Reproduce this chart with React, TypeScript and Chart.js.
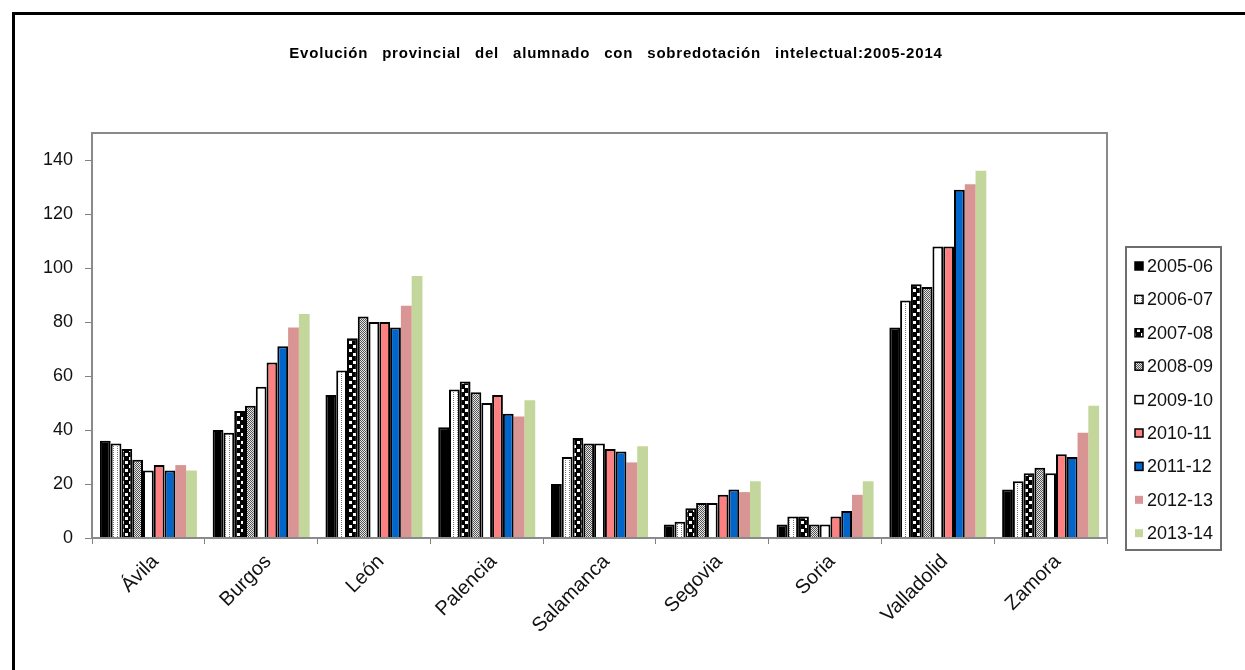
import React, { useEffect, useRef } from 'react';
import { Chart, registerables } from 'chart.js';

Chart.register(...registerables);

const TITLE = 'Evolución provincial del alumnado con sobredotación intelectual:2005-2014';
const provinces = ['Ávila', 'Burgos', 'León', 'Palencia', 'Salamanca', 'Segovia', 'Soria', 'Valladolid', 'Zamora'];
const seriesLabels = ['2005-06', '2006-07', '2007-08', '2008-09', '2009-10', '2010-11', '2011-12', '2012-13', '2013-14'];
const s200506 = [36, 40, 53, 41, 20, 5, 5, 78, 18];
const s200607 = [35, 39, 62, 55, 30, 6, 8, 88, 21];
const s200708 = [33, 47, 74, 58, 37, 11, 8, 94, 24];
const s200809 = [29, 49, 82, 54, 35, 13, 5, 93, 26];
const s200910 = [25, 56, 80, 50, 35, 13, 5, 108, 24];
const s201011 = [27, 65, 80, 53, 33, 16, 8, 108, 31];
const s201112 = [25, 71, 78, 46, 32, 18, 10, 129, 30];
const s201213 = [27, 78, 86, 45, 28, 17, 16, 131, 39];
const s201314 = [25, 83, 97, 51, 34, 21, 21, 136, 49];
const yTicks = [0, 20, 40, 60, 80, 100, 120, 140];

const FONT = '"Liberation Sans", Arial, sans-serif';

function makePattern(size: number, draw: (c: CanvasRenderingContext2D) => void): CanvasPattern | string {
  const cv = document.createElement('canvas');
  cv.width = size;
  cv.height = size;
  const c = cv.getContext('2d');
  if (!c) return '#888';
  draw(c);
  const p = c.createPattern(cv, 'repeat');
  return p || '#888';
}

export default function App() {
  const ref = useRef<HTMLCanvasElement | null>(null);

  useEffect(() => {
    if (!ref.current) return;
    document.body.style.margin = '0';
    document.body.style.overflow = 'hidden';

    const dotted = makePattern(4, (c) => {
      c.fillStyle = '#fff';
      c.fillRect(0, 0, 4, 4);
      c.fillStyle = '#777';
      c.fillRect(1, 0, 1, 1);
      c.fillRect(1, 2, 1, 1);
    });
    const checker = makePattern(8, (c) => {
      c.fillStyle = '#000';
      c.fillRect(0, 0, 8, 8);
      c.fillStyle = '#fff';
      c.fillRect(1, 1, 3, 3);
      c.fillRect(5, 5, 3, 3);
    });
    const fine = makePattern(2, (c) => {
      c.fillStyle = '#e6e6e6';
      c.fillRect(0, 0, 2, 2);
      c.fillStyle = '#555';
      c.fillRect(0, 0, 1, 1);
      c.fillRect(1, 1, 1, 1);
    });

    const fills: (string | CanvasPattern)[] = ['#000000', dotted, checker, fine, '#ffffff', '#FF8080', '#0066CC', '#D99594', '#C3D69B'];
    const borders = [2, 2, 2, 2, 2, 2, 2, 0, 0];
    const values = [s200506, s200607, s200708, s200809, s200910, s201011, s201112, s201213, s201314];

    const datasets = seriesLabels.map((lab, i) => ({
      label: lab,
      data: values[i],
      backgroundColor: fills[i] as any,
      borderColor: '#000',
      borderWidth: borders[i],
      borderSkipped: 'bottom' as const,
      categoryPercentage: 0.86,
      barPercentage: 1.0,
    }));

    const decor = {
      id: 'decor',
      beforeDraw(chart: any) {
        const ctx = chart.ctx as CanvasRenderingContext2D;
        ctx.save();
        ctx.fillStyle = '#fff';
        ctx.fillRect(0, 0, chart.width, chart.height);
        ctx.strokeStyle = '#000';
        ctx.lineWidth = 3;
        ctx.beginPath();
        ctx.moveTo(13.5, chart.height + 5);
        ctx.lineTo(13.5, 13.5);
        ctx.lineTo(chart.width + 5, 13.5);
        ctx.stroke();
        ctx.fillStyle = '#000';
        ctx.font = 'bold 15px ' + FONT;
        (ctx as any).letterSpacing = '0.8px';
        (ctx as any).wordSpacing = '9px';
        ctx.textAlign = 'center';
        ctx.textBaseline = 'middle';
        ctx.fillText(TITLE, 616, 54);
        ctx.restore();
      },
      afterDraw(chart: any) {
        const ctx = chart.ctx as CanvasRenderingContext2D;
        const a = chart.chartArea;
        ctx.save();
        ctx.strokeStyle = '#8a8a8a';
        ctx.lineWidth = 2;
        ctx.strokeRect(a.left, a.top, a.right - a.left, a.bottom - a.top);
        // legend
        const lx = 1126, ly = 247, lw = 95, lh = 303;
        ctx.strokeStyle = '#6e6e6e';
        ctx.lineWidth = 2;
        ctx.strokeRect(lx, ly, lw, lh);
        ctx.font = '18px ' + FONT;
        ctx.textBaseline = 'middle';
        ctx.textAlign = 'left';
        chart.data.datasets.forEach((ds: any, i: number) => {
          const cy = 266 + i * 33.4;
          ctx.fillStyle = ds.backgroundColor;
          ctx.fillRect(1135, cy - 4, 8, 8);
          if (ds.borderWidth > 0) {
            ctx.strokeStyle = '#000';
            ctx.lineWidth = 1.5;
            ctx.strokeRect(1135, cy - 4, 8, 8);
          }
          ctx.fillStyle = '#111';
          ctx.fillText(ds.label, 1147, cy + 1);
        });
        ctx.restore();
      },
    };

    const chart = new Chart(ref.current, {
      type: 'bar',
      data: { labels: provinces, datasets },
      options: {
        responsive: false,
        animation: false,
        layout: { padding: { left: 32, top: 133, right: 138, bottom: 32 } },
        plugins: {
          legend: { display: false },
          title: { display: false },
          tooltip: { enabled: false },
        },
        scales: {
          x: {
            grid: { offset: true, drawOnChartArea: false, drawTicks: true, tickLength: 6, color: '#808080', lineWidth: 1 },
            border: { display: true, color: '#808080', width: 2 },
            ticks: {
              font: { family: FONT, size: 20 },
              color: '#111',
              minRotation: 45,
              maxRotation: 45,
              padding: 6,
              labelOffset: 7,
            },
            afterFit: (s: any) => { s.height = 100; },
          },
          y: {
            min: 0,
            max: 150,
            afterBuildTicks: (s: any) => { s.ticks = yTicks.map((v) => ({ value: v })); },
            grid: { drawOnChartArea: false, drawTicks: true, tickLength: 7, color: '#808080', lineWidth: 1 },
            border: { display: true, color: '#808080', width: 2 },
            ticks: { font: { family: FONT, size: 18 }, color: '#111', padding: 12 },
            afterFit: (s: any) => { s.width = 60; },
          },
        },
      },
      plugins: [decor],
    });
    return () => chart.destroy();
  }, []);

  return (
    <div style={{ position: 'fixed', left: 0, top: 0, width: 1245, height: 670, background: '#fff' }}>
      <canvas ref={ref} width={1245} height={670} style={{ display: 'block', width: 1245, height: 670 }} />
    </div>
  );
}
